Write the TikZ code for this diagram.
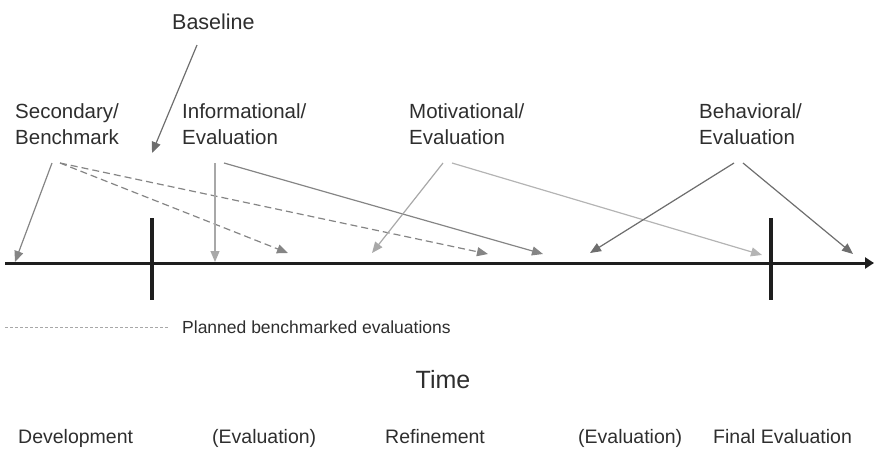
\documentclass[tikz,border=0pt]{standalone}
\usepackage{fontspec}
\setmainfont{Liberation Sans}
\usetikzlibrary{arrows.meta}
\definecolor{txt}{HTML}{2E2E2E}
\definecolor{axisc}{HTML}{1E1E1E}
\definecolor{gmid}{HTML}{858585}
\definecolor{gdark}{HTML}{6E6E6E}
\definecolor{glight}{HTML}{A8A8A8}
\definecolor{glighter}{HTML}{B4B4B4}
\begin{document}
\begin{tikzpicture}[x=1pt,y=-1pt,
  lbl/.style={inner sep=0pt,text=txt,font=\fontsize{20.5}{26}\selectfont,align=left},
  botlbl/.style={inner sep=0pt,text=txt,font=\fontsize{19.5}{24}\selectfont},
  arr/.style={line width=1.2pt,-{Triangle[length=11pt,width=9pt]}},
  dasharr/.style={arr,dash pattern=on 7pt off 4pt},
  tick/.style={line width=3.4pt,draw=axisc}]
\useasboundingbox (0,0) rectangle (875,448);

% labels
\node[lbl,anchor=west,font=\fontsize{21.5}{26}\selectfont] (base) at (172,22) {Baseline};
\node[lbl,anchor=west] (sec) at (15,124) {Secondary/\\Benchmark};
\node[lbl,anchor=west] (inf) at (182,124) {Informational/\\Evaluation};
\node[lbl,anchor=west] (mot) at (409,124) {Motivational/\\Evaluation};
\node[lbl,anchor=west] (beh) at (699,124) {Behavioral/\\Evaluation};

% axis
\coordinate (axL) at (5,263);
\coordinate (axR) at (874,263);
\draw[line width=3pt,draw=axisc,-{Triangle[length=9pt,width=11pt]}] (axL) -- (axR);
\coordinate (t1a) at (152,218); \coordinate (t1b) at (152,300);
\coordinate (t2a) at (771,218); \coordinate (t2b) at (771,300);
\draw[tick] (t1a) -- (t1b);
\draw[tick] (t2a) -- (t2b);

% arrow start points
\coordinate (s1) at (52,163);
\coordinate (s2) at (60,163);
\coordinate (b1) at (197,45);
\coordinate (i1) at (215,163);
\coordinate (i2) at (224,163);
\coordinate (m1) at (443,163);
\coordinate (m2) at (452,163);
\coordinate (h1) at (734,163);
\coordinate (h2) at (743,163);
% arrow end points
\coordinate (e1) at (15,262);
\coordinate (e2) at (288,253);
\coordinate (e3) at (488,254);
\coordinate (e4) at (152,153);
\coordinate (e5) at (215,262);
\coordinate (e6) at (543,254);
\coordinate (e7) at (372,253);
\coordinate (e8) at (762,255);
\coordinate (e9) at (590,253);
\coordinate (e10) at (853,254);

\draw[arr,gmid] (s1) -- (e1);
\draw[dasharr,gmid] (s2) -- (e2);
\draw[dasharr,gmid] (s2) -- (e3);
\draw[arr,gdark] (b1) -- (e4);
\draw[arr,glight] (i1) -- (e5);
\draw[arr,gmid] (i2) -- (e6);
\draw[arr,glight] (m1) -- (e7);
\draw[arr,glighter] (m2) -- (e8);
\draw[arr,gdark] (h1) -- (e9);
\draw[arr,gdark] (h2) -- (e10);

% legend
\coordinate (lg1) at (5,327);
\coordinate (lg2) at (168,327);
\draw[glight,line width=0.8pt,dash pattern=on 3pt off 2pt] (lg1) -- (lg2);
\node[inner sep=0pt,text=txt,anchor=west,font=\fontsize{17.5}{20}\selectfont] (leg) at (182,327) {Planned benchmarked evaluations};

% time
\node[inner sep=0pt,text=txt,font=\fontsize{25}{30}\selectfont] (time) at (443,380) {Time};

% bottom labels
\node[botlbl,anchor=base west] (dev) at (18,443) {Development};
\node[botlbl,anchor=base west] (ev1) at (212,443) {(Evaluation)};
\node[botlbl,anchor=base west] (ref) at (385,443) {Refinement};
\node[botlbl,anchor=base west] (ev2) at (578,443) {(Evaluation)};
\node[botlbl,anchor=base west] (fin) at (713,443) {Final Evaluation};
\end{tikzpicture}
\end{document}
